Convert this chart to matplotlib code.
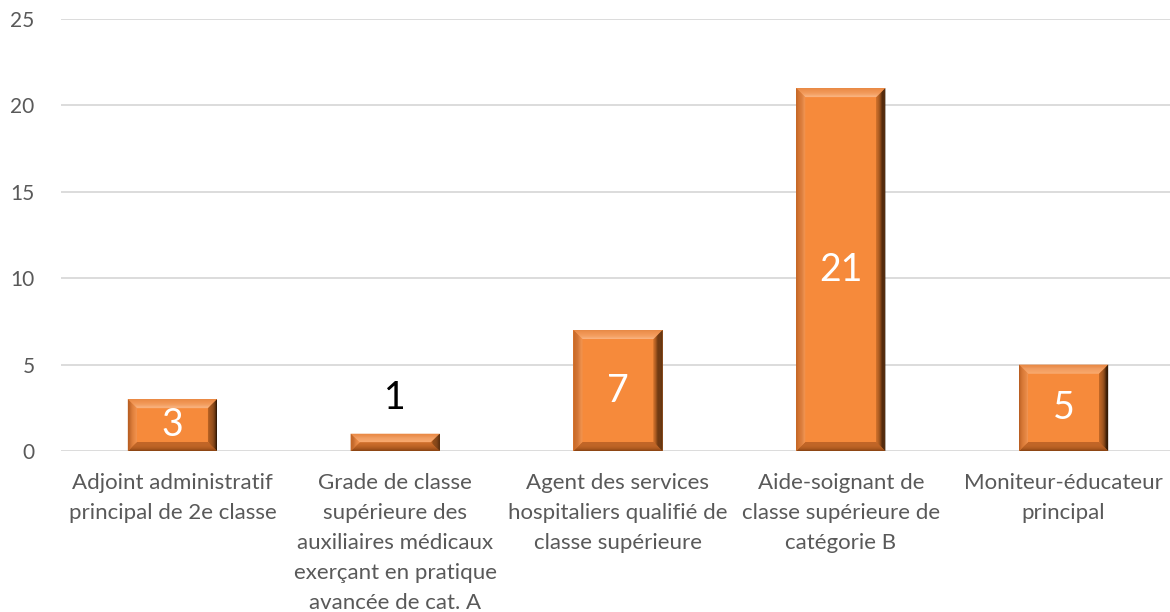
import numpy as np
import matplotlib
matplotlib.use("Agg")
import matplotlib.pyplot as plt
from matplotlib.patches import Polygon
from matplotlib.colors import to_rgb

categories = [
    "Adjoint administratif\nprincipal de 2e classe",
    "Grade de classe\nsupérieure des\nauxiliaires médicaux\nexerçant en pratique\navancée de cat. A",
    "Agent des services\nhospitaliers qualifié de\nclasse supérieure",
    "Aide-soignant de\nclasse supérieure de\ncatégorie B",
    "Moniteur-éducateur\nprincipal",
]
values = [3, 1, 7, 21, 5]
yticks = [0, 5, 10, 15, 20, 25]

plt.rcParams['font.family'] = ['Lato', 'DejaVu Sans']

face = "#F68A3B"
fig = plt.figure(figsize=(11.7, 6.12), dpi=100)
ax = fig.add_axes([61 / 1170, 161 / 612, 1114 / 1170, 432 / 612])

x = np.arange(len(values))
bars = ax.bar(x, values, width=0.4, color=face, zorder=2)
ax.set_xlim(-0.5, len(values) - 0.5)
ax.set_ylim(0, 25)
ax.set_yticks(yticks)
ax.set_xticks(x)
ax.set_xticklabels(categories, fontsize=16, color="#595959", linespacing=1.62)
ax.tick_params(axis='y', length=0, pad=19, labelsize=15, labelcolor="#595959")
ax.tick_params(axis='x', length=0, pad=16)
ax.grid(axis='y', color="#D9D9D9", linewidth=1.3, zorder=0)
for s in ax.spines.values():
    s.set_visible(False)
ax.set_axisbelow(True)

# bevel effect, built from each bar's own extent
fig.canvas.draw()
inv = ax.transData.inverted()
bev = 9


def poly(pts, col):
    d = inv.transform(np.array(pts))
    ax.add_patch(Polygon(d, closed=True, facecolor=col, edgecolor='none', zorder=3))


def mix(c1, c2, t):
    a, b = np.array(to_rgb(c1)), np.array(to_rgb(c2))
    return tuple(a + (b - a) * t)


n = 8
for b in bars:
    (x0, y0), (x1, y1) = ax.transData.transform(
        [(b.get_x(), b.get_y()), (b.get_x() + b.get_width(), b.get_y() + b.get_height())])
    e = min(bev, (y1 - y0) / 2)
    for i in range(n):
        t0, t1 = i / n, (i + 1) / n
        # top
        poly([(x0 + bev * t0, y1 - e * t0), (x1 - bev * t0, y1 - e * t0),
              (x1 - bev * t1, y1 - e * t1), (x0 + bev * t1, y1 - e * t1)],
             mix("#E88A48", "#FBB784", t0))
        # bottom
        poly([(x0 + bev * t0, y0 + e * t0), (x1 - bev * t0, y0 + e * t0),
              (x1 - bev * t1, y0 + e * t1), (x0 + bev * t1, y0 + e * t1)],
             mix("#8E4614", "#C8692A", t0))
        # left
        poly([(x0 + bev * t0, y0 + e * t0), (x0 + bev * t1, y0 + e * t1),
              (x0 + bev * t1, y1 - e * t1), (x0 + bev * t0, y1 - e * t0)],
             mix("#B85E22", "#F79A58", t0))
        # right, dark at the edge
        poly([(x1 - bev * t0, y0 + e * t0), (x1 - bev * t1, y0 + e * t1),
              (x1 - bev * t1, y1 - e * t1), (x1 - bev * t0, y1 - e * t0)],
             mix("#2E1604", "#C86A26", t0))

for b, v in zip(bars, values):
    cx = b.get_x() + b.get_width() / 2
    if v >= 3:
        ax.text(cx, v / 2, str(v), ha='center', va='center', color='white',
                fontsize=27, zorder=4)
    else:
        ax.text(cx, v + 1.0, str(v), ha='center', va='bottom', color='black',
                fontsize=27, zorder=4)

fig.savefig("out.png", dpi=100)
